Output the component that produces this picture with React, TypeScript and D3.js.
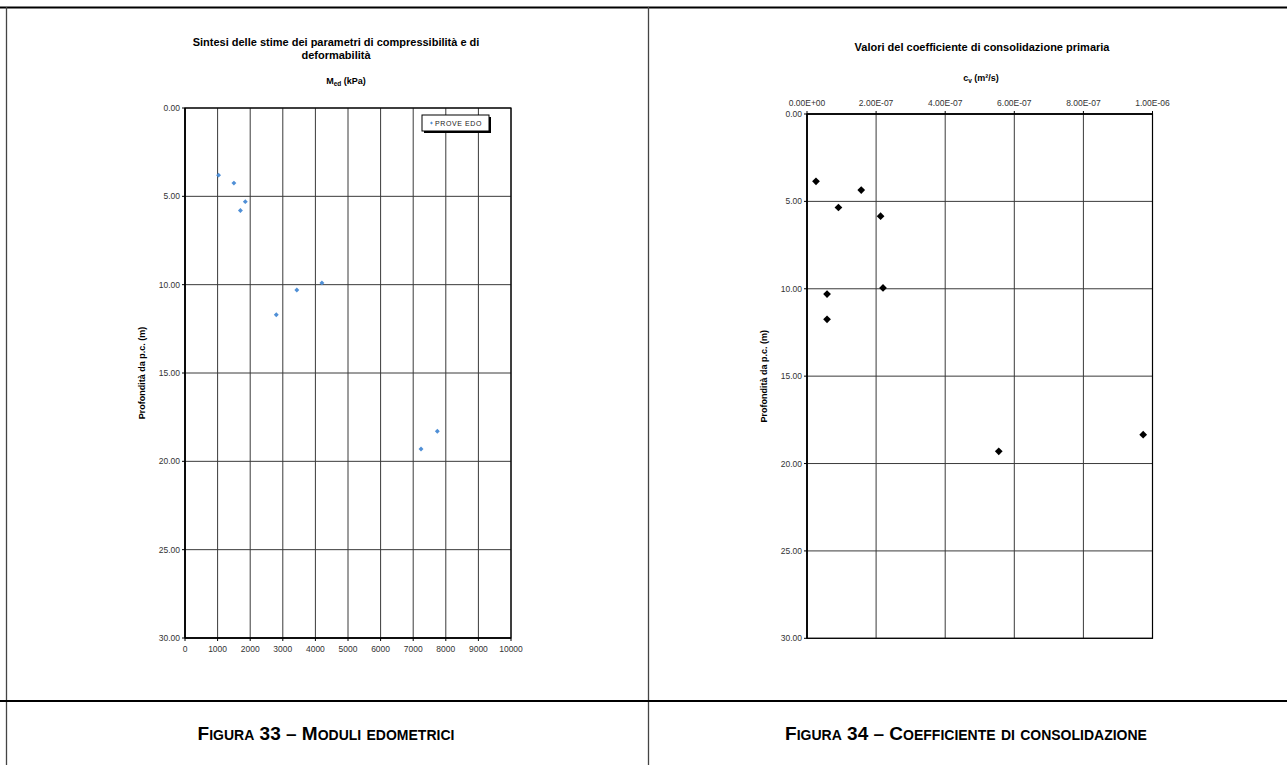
import React from "react";
import * as d3 from "d3";

// Depth (m) and oedometric modulus M_ed (kPa) from the PROVE EDO tests
const medDepths = [3.8, 4.25, 5.3, 5.8, 11.7, 10.3, 9.9, 18.3, 19.3];
const medValues = [1030, 1500, 1850, 1700, 2800, 3430, 4200, 7740, 7240];

// Depth (m) and primary consolidation coefficient c_v (m²/s)
const cvDepths = [3.85, 4.35, 5.35, 5.85, 9.95, 10.3, 11.75, 19.3, 18.35];
const cvValues = [2.6e-8, 1.57e-7, 9.1e-8, 2.13e-7, 2.2e-7, 5.8e-8, 5.8e-8, 5.55e-7, 9.73e-7];

// Tick values
const depthTicks = [0, 5, 10, 15, 20, 25, 30];
const medTicks = [0, 1000, 2000, 3000, 4000, 5000, 6000, 7000, 8000, 9000, 10000];
const cvTicks = [0, 2e-7, 4e-7, 6e-7, 8e-7, 1e-6];

const FONT = "'Liberation Sans', Arial, sans-serif";
const GRID = "#3a3a3a";
const TICK_TEXT = "#333";

const fmtDepth = d3.format(".2f");
const fmtSci = (v: number) => {
  if (v === 0) return "0.00E+00";
  const e = Math.floor(Math.log10(Math.abs(v)) + 1e-9);
  const m = v / Math.pow(10, e);
  const sign = e < 0 ? "-" : "+";
  const ea = Math.abs(e);
  return `${m.toFixed(2)}E${sign}${ea < 10 ? "0" + ea : ea}`;
};

function SmallCaps({ x, y, text }: { x: number; y: number; text: string }) {
  // Capitals at full size, lower-case letters as reduced capitals
  const parts: { t: string; big: boolean }[] = [];
  for (const ch of text) {
    const big = ch === ch.toUpperCase();
    const last = parts[parts.length - 1];
    if (last && last.big === big) last.t += ch;
    else parts.push({ t: ch, big });
  }
  return (
    <text x={x} y={y} textAnchor="middle" fontFamily={FONT} fontWeight="bold" fill="#000">
      {parts.map((p, i) => (
        <tspan key={i} fontSize={p.big ? 19 : 14}>
          {p.big ? p.t : p.t.toUpperCase()}
        </tspan>
      ))}
    </text>
  );
}

export default function App() {
  // Left chart scales
  const xL = d3.scaleLinear().domain([0, 10000]).range([185, 511]);
  const yL = d3.scaleLinear().domain([0, 30]).range([108, 638]);
  // Right chart scales
  const xR = d3.scaleLinear().domain([0, 1e-6]).range([807, 1152.5]);
  const yR = d3.scaleLinear().domain([0, 30]).range([114, 638.3]);

  const smallDiamond = d3.symbol(d3.symbolSquare, 12)() as string;
  const bigDiamond = d3.symbol(d3.symbolSquare, 30)() as string;

  const [l0, l1] = xL.range();
  const [lt, lb] = yL.range();
  const [r0, r1] = xR.range();
  const [rt, rb] = yR.range();

  return (
    <svg
      width={1287}
      height={765}
      style={{ position: "absolute", left: 0, top: 0, background: "#fff" }}
    >
      {/* table frame */}
      <line x1={0} x2={1287} y1={7.5} y2={7.5} stroke="#000" strokeWidth={2} />
      <line x1={6.5} x2={6.5} y1={7} y2={765} stroke="#444" strokeWidth={1.3} />
      <line x1={648.5} x2={648.5} y1={7} y2={765} stroke="#444" strokeWidth={1.3} />
      <line x1={0} x2={1287} y1={701} y2={701} stroke="#000" strokeWidth={2} />

      {/* ===== Left chart: M_ed ===== */}
      <text x={336} y={46} textAnchor="middle" fontFamily={FONT} fontWeight="bold" fontSize={11}>
        Sintesi delle stime dei parametri di compressibilità e di
      </text>
      <text x={336} y={59} textAnchor="middle" fontFamily={FONT} fontWeight="bold" fontSize={11}>
        deformabilità
      </text>
      <text x={346} y={84} textAnchor="middle" fontFamily={FONT} fontWeight="bold" fontSize={9}>
        M<tspan fontSize={6.5} dy={2}>ed</tspan>
        <tspan dy={-2}> (kPa)</tspan>
      </text>

      {medTicks.map((t) => (
        <line key={"lv" + t} x1={xL(t)} x2={xL(t)} y1={lt} y2={lb} stroke={GRID} strokeWidth={1} />
      ))}
      {depthTicks.map((t) => (
        <line key={"lh" + t} x1={l0} x2={l1} y1={yL(t)} y2={yL(t)} stroke={GRID} strokeWidth={1} />
      ))}
      <rect x={l0} y={lt} width={l1 - l0} height={lb - lt} fill="none" stroke="#000" strokeWidth={1.2} />
      <line x1={l0} x2={l0} y1={lt} y2={lb} stroke="#000" strokeWidth={1.6} />
      <line x1={l0} x2={l1} y1={lb} y2={lb} stroke="#000" strokeWidth={1.6} />
      {depthTicks.map((t) => (
        <g key={"ly" + t}>
          <line x1={l0 - 3} x2={l0} y1={yL(t)} y2={yL(t)} stroke="#000" />
          <text x={l0 - 5} y={yL(t) + 3} textAnchor="end" fontFamily={FONT} fontSize={8.5} fill={TICK_TEXT}>
            {fmtDepth(t)}
          </text>
        </g>
      ))}
      {medTicks.map((t) => (
        <g key={"lx" + t}>
          <line x1={xL(t)} x2={xL(t)} y1={lb} y2={lb + 3} stroke="#000" />
          <text x={xL(t)} y={lb + 14} textAnchor="middle" fontFamily={FONT} fontSize={8.5} fill={TICK_TEXT}>
            {t}
          </text>
        </g>
      ))}
      <text
        transform={`translate(145, ${(lt + lb) / 2}) rotate(-90)`}
        textAnchor="middle"
        fontFamily={FONT}
        fontWeight="bold"
        fontSize={9}
      >
        Profondità da p.c. (m)
      </text>

      {medValues.map((v, i) => (
        <path
          key={"lp" + i}
          d={smallDiamond}
          transform={`translate(${xL(v)}, ${yL(medDepths[i])}) rotate(45)`}
          fill="#4f8fd6"
        />
      ))}

      {/* legend */}
      <rect x={424} y={117} width={67} height={16} fill="#000" />
      <rect x={422} y={115} width={67} height={16} fill="#fff" stroke="#000" strokeWidth={1} />
      <path d={d3.symbol(d3.symbolSquare, 4)() as string} transform="translate(431.5, 123) rotate(45)" fill="#4f8fd6" />
      <text x={435} y={125.5} fontFamily={FONT} fontSize={7} letterSpacing={0.6} fill="#222">
        PROVE EDO
      </text>

      {/* ===== Right chart: c_v ===== */}
      <text x={982} y={51} textAnchor="middle" fontFamily={FONT} fontWeight="bold" fontSize={11}>
        Valori del coefficiente di consolidazione primaria
      </text>
      <text x={981} y={81} textAnchor="middle" fontFamily={FONT} fontWeight="bold" fontSize={9}>
        c<tspan fontSize={6.5} dy={2}>v</tspan>
        <tspan dy={-2}> (m²/s)</tspan>
      </text>

      {cvTicks.map((t) => (
        <line key={"rv" + t} x1={xR(t)} x2={xR(t)} y1={rt} y2={rb} stroke={GRID} strokeWidth={1} />
      ))}
      {depthTicks.map((t) => (
        <line key={"rh" + t} x1={r0} x2={r1} y1={yR(t)} y2={yR(t)} stroke={GRID} strokeWidth={1} />
      ))}
      <rect x={r0} y={rt} width={r1 - r0} height={rb - rt} fill="none" stroke="#000" strokeWidth={1.2} />
      <line x1={r0} x2={r0} y1={rt} y2={rb} stroke="#000" strokeWidth={1.6} />
      <line x1={r0} x2={r1} y1={rt} y2={rt} stroke="#000" strokeWidth={1.6} />
      {depthTicks.map((t) => (
        <g key={"ry" + t}>
          <line x1={r0 - 3} x2={r0} y1={yR(t)} y2={yR(t)} stroke="#000" />
          <text x={r0 - 5} y={yR(t) + 3} textAnchor="end" fontFamily={FONT} fontSize={8.5} fill={TICK_TEXT}>
            {fmtDepth(t)}
          </text>
        </g>
      ))}
      {cvTicks.map((t) => (
        <g key={"rx" + t}>
          <line x1={xR(t)} x2={xR(t)} y1={rt - 3} y2={rt} stroke="#000" />
          <text x={xR(t)} y={rt - 8} textAnchor="middle" fontFamily={FONT} fontSize={8.5} fill={TICK_TEXT}>
            {fmtSci(t)}
          </text>
        </g>
      ))}
      <text
        transform={`translate(767, ${(rt + rb) / 2}) rotate(-90)`}
        textAnchor="middle"
        fontFamily={FONT}
        fontWeight="bold"
        fontSize={9}
      >
        Profondità da p.c. (m)
      </text>

      {cvValues.map((v, i) => (
        <path
          key={"rp" + i}
          d={bigDiamond}
          transform={`translate(${xR(v)}, ${yR(cvDepths[i])}) rotate(45)`}
          fill="#000"
        />
      ))}

      {/* captions */}
      <SmallCaps x={326} y={740} text="Figura 33 – Moduli edometrici" />
      <SmallCaps x={966} y={740} text="Figura 34 – Coefficiente di consolidazione" />
    </svg>
  );
}
